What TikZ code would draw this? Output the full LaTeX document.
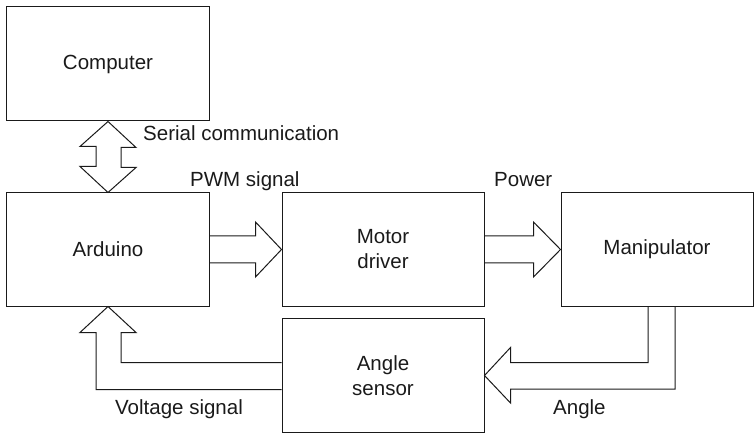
\documentclass[tikz,border=0pt]{standalone}
\usepackage{fontspec}
\setmainfont{Liberation Sans}
\usetikzlibrary{calc}
\definecolor{ink}{HTML}{1A1A1A}
\begin{document}
\begin{tikzpicture}[x=1bp,y=-1bp,
  font=\fontsize{20.5bp}{25bp}\selectfont,
  box/.style={draw=ink, line width=1bp, rectangle, inner sep=0pt, align=center, text=ink,
    minimum width=202bp, minimum height=113bp},
  blockarrow/.style={draw=ink, line width=1bp, line join=miter},
  lbl/.style={anchor=base west, inner sep=0pt, text=ink}]
\useasboundingbox (0,0) rectangle (755,433);
\node[box, minimum height=114bp] (comp) at (108,64) {Computer};
\node[box] (ard) at (108,249.5) {Arduino};
\node[box] (mot) at (383,249.5) {Motor\\driver};
\node[box, minimum width=192bp] (man) at (657,249.5) {Manipulator};
\node[box] (ang) at (383,375.5) {Angle\\sensor};

% serial communication double arrow
\draw[blockarrow] (comp.south) -- ++(28,26) -- ++(-15,0) -- ++(0,20) -- ++(15,0)
  -- (ard.north) -- ++(-28,-26) -- ++(16,0) -- ++(0,-20) -- ++(-16,0) -- cycle;
% PWM arrow
\draw[blockarrow] ($(ard.east)+(0,-13.5)$) -- ($(mot.west)+(-26,-13.5)$) -- ($(mot.west)+(-26,-27.5)$)
  -- (mot.west) -- ($(mot.west)+(-26,27.5)$) -- ($(mot.west)+(-26,13.5)$) -- ($(ard.east)+(0,13.5)$);
% Power arrow
\draw[blockarrow] ($(mot.east)+(0,-13.5)$) -- ($(man.west)+(-27,-13.5)$) -- ($(man.west)+(-27,-27.5)$)
  -- (man.west) -- ($(man.west)+(-27,27.5)$) -- ($(man.west)+(-27,13.5)$) -- ($(mot.east)+(0,13.5)$);
% Angle arrow
\draw[blockarrow] ($(man.south)+(-9,0)$) |- ($(ang.east)+(26,-13)$) -- ($(ang.east)+(26,-28)$)
  -- (ang.east) -- ($(ang.east)+(26,27.5)$) -- ($(ang.east)+(26,13.5)$) -| ($(man.south)+(18,0)$);
% Voltage signal arrow
\draw[blockarrow] ($(ang.west)+(0,-13)$) -| ($(ard.south)+(13,26)$) -- ($(ard.south)+(28,26)$)
  -- (ard.south) -- ($(ard.south)+(-28,26)$) -- ($(ard.south)+(-12,26)$) |- ($(ang.west)+(0,14)$);

% labels
\node[lbl] (lser) at (143,141) {Serial communication};
\node[lbl] (lpwm) at (190,187) {PWM signal};
\node[lbl] (lpow) at (494,187) {Power};
\node[lbl] (lvol) at (115,414) {Voltage signal};
\node[lbl] (lang) at (553,414) {Angle};
\end{tikzpicture}
\end{document}
